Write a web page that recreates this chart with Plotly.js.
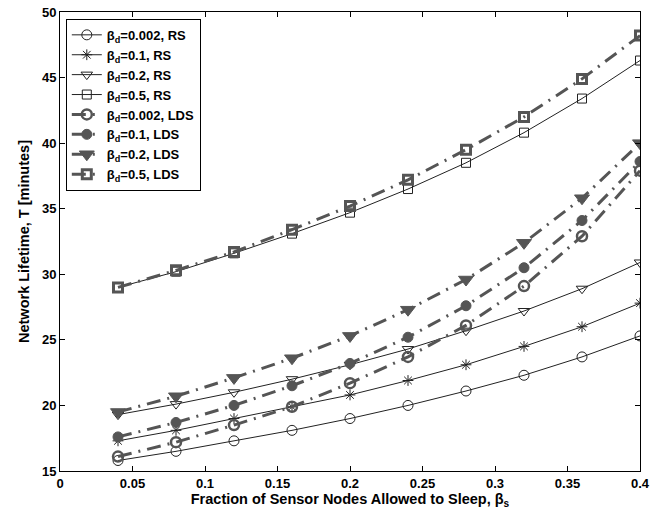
<!DOCTYPE html>
<html>
<head>
<meta charset="utf-8">
<script src="https://cdn.plot.ly/plotly-3.0.1.min.js"></script>
<style>html,body{margin:0;padding:0;background:#fff;}#chart{width:651px;height:513px;}</style>
</head>
<body>
<div id="chart"></div>
<script>
var betaS = [0.04, 0.08, 0.12, 0.16, 0.20, 0.24, 0.28, 0.32, 0.36, 0.40];

var rs002 = [15.8, 16.5, 17.3, 18.1, 19.0, 20.0, 21.1, 22.3, 23.7, 25.3];
var rs01  = [17.3, 18.1, 19.0, 19.9, 20.8, 21.9, 23.1, 24.5, 26.0, 27.8];
var rs02  = [19.3, 20.1, 21.0, 22.0, 23.1, 24.3, 25.7, 27.2, 28.9, 30.9];
var rs05  = [29.0, 30.2, 31.6, 33.1, 34.7, 36.5, 38.5, 40.8, 43.4, 46.3];

var lds002 = [16.1, 17.2, 18.5, 19.9, 21.7, 23.7, 26.1, 29.1, 32.9, 37.9];
var lds01  = [17.6, 18.7, 20.0, 21.5, 23.2, 25.2, 27.6, 30.5, 34.1, 38.6];
var lds02  = [19.5, 20.7, 22.1, 23.6, 25.3, 27.3, 29.6, 32.4, 35.8, 40.0];
var lds05  = [29.0, 30.3, 31.7, 33.4, 35.2, 37.2, 39.5, 42.0, 44.9, 48.2];

var xTicks = [0, 0.05, 0.1, 0.15, 0.2, 0.25, 0.3, 0.35, 0.4];
var xTickText = ['0', '0.05', '0.1', '0.15', '0.2', '0.25', '0.3', '0.35', '0.4'];
var yTicks = [15, 20, 25, 30, 35, 40, 45, 50];

var names = [
  'β<sub>d</sub>=0.002, RS', 'β<sub>d</sub>=0.1, RS', 'β<sub>d</sub>=0.2, RS', 'β<sub>d</sub>=0.5, RS',
  'β<sub>d</sub>=0.002, LDS', 'β<sub>d</sub>=0.1, LDS', 'β<sub>d</sub>=0.2, LDS', 'β<sub>d</sub>=0.5, LDS'
];

var rsColor = '#222';
var ldsColor = '#555';
var ldsDash = '14px,7px,2px,7px';

function rsTrace(y, name, sym, size) {
  return {x: betaS, y: y, name: name, type: 'scatter', mode: 'lines+markers',
    line: {color: rsColor, width: 1},
    marker: {symbol: sym, size: size, color: rsColor, line: {color: rsColor, width: 1}}};
}
function ldsTrace(y, name, sym, size, lw) {
  return {x: betaS, y: y, name: name, type: 'scatter', mode: 'lines+markers',
    line: {color: ldsColor, width: 3, dash: ldsDash},
    marker: {symbol: sym, size: size, color: ldsColor, line: {color: ldsColor, width: lw}}};
}

var data = [
  rsTrace(rs002, names[0], 'circle-open', 10),
  rsTrace(rs01, names[1], 'asterisk-open', 9),
  rsTrace(rs02, names[2], 'triangle-down-open', 10),
  rsTrace(rs05, names[3], 'square-open', 9),
  ldsTrace(lds002, names[4], 'circle-open', 10, 2.5),
  ldsTrace(lds01, names[5], 'circle', 10, 1),
  ldsTrace(lds02, names[6], 'triangle-down', 13, 1),
  ldsTrace(lds05, names[7], 'square-open', 9, 3)
];

var fam = 'Liberation Sans, Arial, sans-serif';

var layout = {
  width: 651, height: 513,
  margin: {l: 60, r: 11, t: 12, b: 42},
  paper_bgcolor: '#fff', plot_bgcolor: '#fff',
  font: {family: fam, size: 13, color: '#000', weight: 'bold'},
  showlegend: true,
  legend: {x: 0.01, y: 0.985, xanchor: 'left', yanchor: 'top', bgcolor: '#fff',
    bordercolor: '#000', borderwidth: 1, tracegroupgap: 0, itemwidth: 30,
    font: {family: fam, size: 13, color: '#000', weight: 'bold'}},
  xaxis: {
    range: [0, 0.4], tickvals: xTicks, ticktext: xTickText, ticks: 'inside', ticklen: 5, tickcolor: '#000',
    ticklabeloverflow: 'allow',
    showline: true, linecolor: '#000', linewidth: 1, mirror: 'ticks', showgrid: false, zeroline: false,
    tickfont: {family: fam, size: 13, color: '#000', weight: 'bold'},
    title: {text: 'Fraction of Sensor Nodes Allowed to Sleep, β<sub>s</sub>', standoff: 4,
      font: {family: fam, size: 14.5, color: '#000', weight: 'bold'}}
  },
  yaxis: {
    range: [15, 50], tickvals: yTicks, ticks: 'inside', ticklen: 5, tickcolor: '#000',
    showline: true, linecolor: '#000', linewidth: 1, mirror: 'ticks', showgrid: false, zeroline: false,
    tickfont: {family: fam, size: 13, color: '#000', weight: 'bold'},
    title: {text: 'Network Lifetime, T [minutes]', standoff: 8,
      font: {family: fam, size: 14.5, color: '#000', weight: 'bold'}}
  }
};

Plotly.newPlot('chart', data, layout, {displayModeBar: false, staticPlot: true});
</script>
</body>
</html>
